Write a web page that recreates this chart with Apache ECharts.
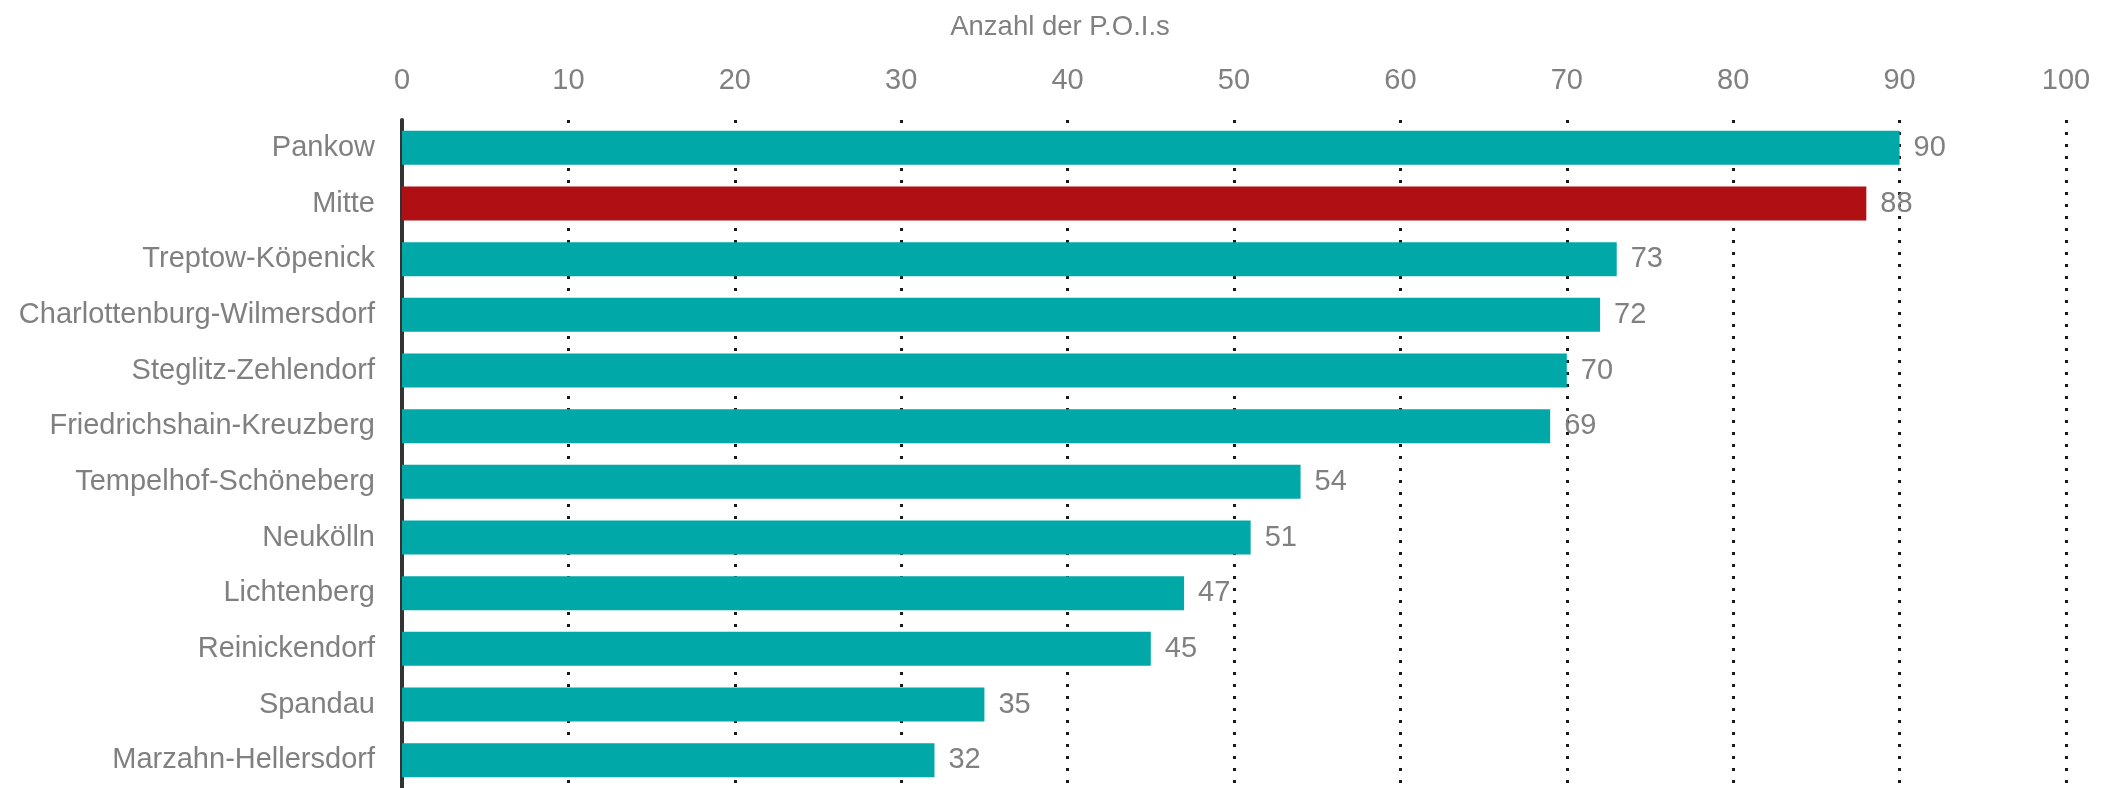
<!DOCTYPE html>
<html>
<head>
<meta charset="utf-8">
<script src="https://cdn.jsdelivr.net/npm/echarts@6/dist/echarts.min.js"></script>
<style>
  html, body { margin: 0; padding: 0; background: #fff; }
  #chart { width: 2105px; height: 788px; }
</style>
</head>
<body>
<div id="chart"></div>
<script>
// Berliner Bezirke, sortiert nach Anzahl der P.O.I.s
const districts = [
  'Pankow', 'Mitte', 'Treptow-Köpenick', 'Charlottenburg-Wilmersdorf',
  'Steglitz-Zehlendorf', 'Friedrichshain-Kreuzberg', 'Tempelhof-Schöneberg',
  'Neukölln', 'Lichtenberg', 'Reinickendorf', 'Spandau', 'Marzahn-Hellersdorf'
];
const poiCounts = [90, 88, 73, 72, 70, 69, 54, 51, 47, 45, 35, 32];
const highlighted = 'Mitte';
const axisTitle = 'Anzahl der P.O.I.s';

const TEAL = '#00A8A7';
const RED = '#B01014';
const TEXT = '#808080';
const FONT = '"Liberation Sans", Arial, sans-serif';

const chart = echarts.init(document.getElementById('chart'), null, { renderer: 'canvas' });

chart.setOption({
  animation: false,
  backgroundColor: '#ffffff',
  title: {
    text: axisTitle,
    left: 1055,
    top: 8,
    textAlign: 'center',
    textStyle: { color: TEXT, fontFamily: FONT, fontSize: 27.5, fontWeight: 'normal' }
  },
  grid: { left: 402, top: 120, width: 1664, height: 673, containLabel: false },
  xAxis: {
    type: 'value',
    position: 'top',
    min: 0,
    max: 100,
    interval: 10,
    axisLine: { show: false },
    axisTick: { show: false },
    axisLabel: { color: TEXT, fontFamily: FONT, fontSize: 29, margin: 25 },
    splitLine: {
      show: true,
      lineStyle: { color: '#1a1a1a', width: 3, type: [3, 9], cap: 'butt' }
    }
  },
  yAxis: {
    type: 'category',
    data: districts,
    inverse: true,
    axisLine: { show: true, lineStyle: { color: '#333333', width: 4 } },
    axisTick: { show: false },
    axisLabel: { color: TEXT, fontFamily: FONT, fontSize: 29, margin: 27 },
    splitLine: { show: false }
  },
  series: [{
    type: 'bar',
    barWidth: 34,
    data: poiCounts.map((v, i) => ({
      value: v,
      itemStyle: { color: districts[i] === highlighted ? RED : TEAL }
    })),
    label: {
      show: true,
      position: 'right',
      distance: 14,
      color: TEXT,
      fontFamily: FONT,
      fontSize: 29
    }
  }]
});
</script>
</body>
</html>
